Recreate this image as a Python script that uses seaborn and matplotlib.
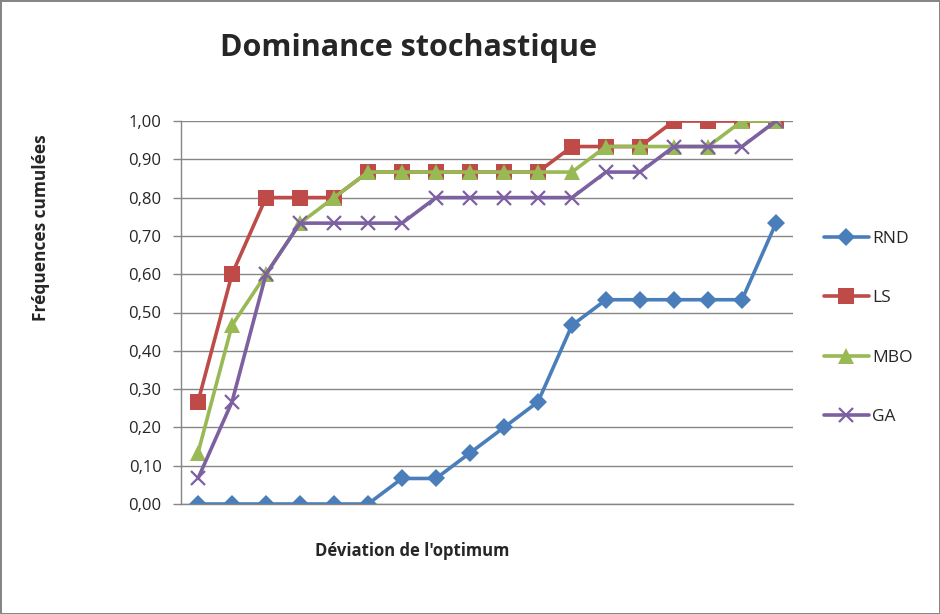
import pandas as pd
import seaborn as sns
import matplotlib.pyplot as plt
from matplotlib.ticker import FuncFormatter, MultipleLocator

# cumulative frequencies (18 deviation steps)
steps = list(range(1, 19))
rnd = [0, 0, 0, 0, 0, 0, 1/15, 1/15, 2/15, 3/15, 4/15, 7/15, 8/15, 8/15, 8/15, 8/15, 8/15, 11/15]
ls = [4/15, 9/15, 12/15, 12/15, 12/15, 13/15, 13/15, 13/15, 13/15, 13/15, 13/15, 14/15, 14/15, 14/15, 1, 1, 1, 1]
mbo = [2/15, 7/15, 9/15, 11/15, 12/15, 13/15, 13/15, 13/15, 13/15, 13/15, 13/15, 13/15, 14/15, 14/15, 14/15, 14/15, 1, 1]
ga = [1/15, 4/15, 9/15, 11/15, 11/15, 11/15, 11/15, 12/15, 12/15, 12/15, 12/15, 12/15, 13/15, 13/15, 14/15, 14/15, 14/15, 1]
seriesNames = ['RND', 'LS', 'MBO', 'GA']

df = pd.DataFrame({'step': steps, 'RND': rnd, 'LS': ls, 'MBO': mbo, 'GA': ga})

colors = {'RND': '#4A7EBB', 'LS': '#BE4B48', 'MBO': '#98B954', 'GA': '#7D60A0'}
markers = {'RND': 'D', 'LS': 's', 'MBO': '^', 'GA': 'x'}
msizes = {'RND': 9, 'LS': 11, 'MBO': 11, 'GA': 10}

sns.set_style('white')
plt.rcParams['font.family'] = ['Open Sans', 'DejaVu Sans']

fig = plt.figure(figsize=(9.4, 6.14), dpi=100)
ax = fig.add_axes([181/940, 1 - 504/614, 612/940, 383/614])

for name in seriesNames:
    sns.lineplot(data=df, x='step', y=name, color=colors[name], marker=markers[name],
                 markersize=msizes[name], linewidth=2.6,
                 markeredgewidth=1.6 if name == 'GA' else 0,
                 markeredgecolor=colors[name], label=name, ax=ax)

ax.set_xlim(0.5, 18.5)
ax.set_ylim(0, 1)
ax.yaxis.set_major_locator(MultipleLocator(0.1))
ax.yaxis.set_major_formatter(FuncFormatter(lambda v, p: f'{v:.2f}'.replace('.', ',')))
ax.set_xticks([])
ax.tick_params(axis='y', labelsize=12, left=True, length=6, width=1, color='#868686', pad=8)
ax.grid(True, axis='y', color='#868686', linewidth=1)
ax.set_axisbelow(True)
for side in ['top', 'right']:
    ax.spines[side].set_visible(False)
for side in ['left', 'bottom']:
    ax.spines[side].set_color('#868686')
    ax.spines[side].set_linewidth(1)

ax.set_xlabel("Déviation de l'optimum", fontsize=12, fontweight='bold')
ax.xaxis.set_label_coords((412 - 181) / 612, -(542 - 504) / 383)
ax.set_ylabel('Fréquences cumulées', fontsize=12.5, fontweight='bold')
ax.yaxis.set_label_coords(-(181 - 50) / 612, (504 - 228) / 383)
fig.text(408/940, 1 - 48/614, 'Dominance stochastique', fontsize=22, fontweight='bold',
         ha='center', va='center')

handles, labels = ax.get_legend_handles_labels()
ax.get_legend().remove()
fig.legend(handles, labels, loc='center left', bbox_to_anchor=(808/940, 1 - 328/614),
           frameon=False, fontsize=12.5, labelspacing=2.5, handlelength=2.6, handletextpad=0.2)

fig.patch.set_edgecolor('#868686')
fig.patch.set_linewidth(2)
plt.savefig('out.png', dpi=100, edgecolor=fig.get_edgecolor())
